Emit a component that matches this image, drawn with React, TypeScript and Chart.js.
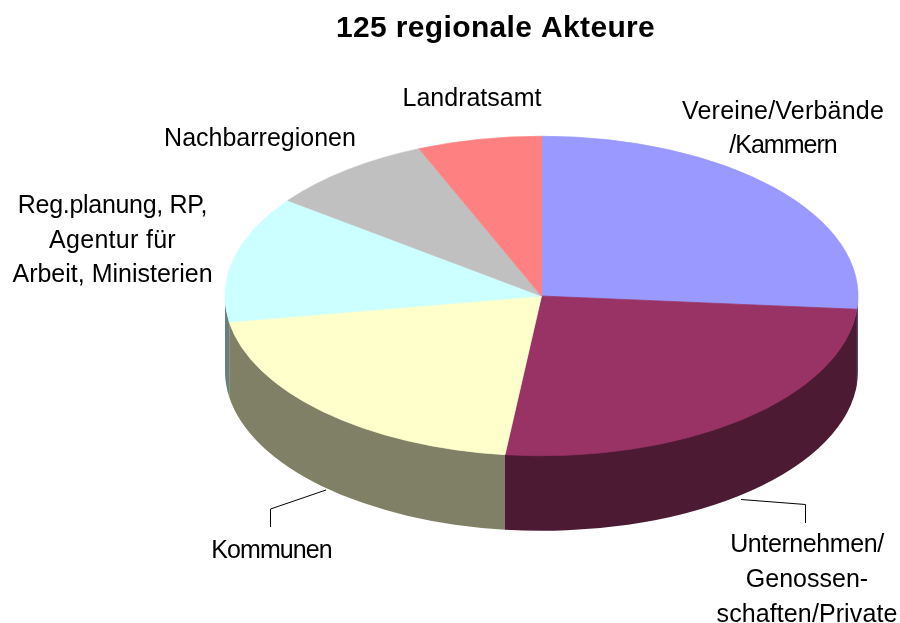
import React, { useEffect, useRef } from "react";
import { Chart, registerables } from "chart.js";

Chart.register(...registerables);

const TITLE = "125 regionale Akteure";
const CATEGORIES = [
  "Vereine/Verbände /Kammern",
  "Unternehmen/ Genossen-schaften/Private",
  "Kommunen",
  "Reg.planung, RP, Agentur für Arbeit, Ministerien",
  "Nachbarregionen",
  "Landratsamt",
];
const VALUES = [32.9, 31.9, 25.7, 16, 10.6, 7.9];
const TOP_COLORS = ["#9999FF", "#993366", "#FFFFCC", "#CCFFFF", "#C0C0C0", "#FF8080"];
const SIDE_COLORS = ["#4D4D80", "#4D1A33", "#808066", "#668080", "#606060", "#804040"];
const LABEL_LINES = [
  ["Vereine/Verbände", "/Kammern"],
  ["Unternehmen/", "Genossen-", "schaften/Private"],
  ["Kommunen"],
  ["Reg.planung, RP,", "Agentur für", "Arbeit, Ministerien"],
  ["Nachbarregionen"],
  ["Landratsamt"],
];

// layout of the annotations (not data)
const LABEL_ANCHORS = [
  { x: 783, y: 119, lh: 33.5, ls: [0.2, -1.0] },
  { x: 807, y: 552, lh: 35, ls: [-0.4, 0, 0.1] },
  { x: 271.5, y: 558, lh: 35, ls: [-0.9] },
  { x: 112.5, y: 213, lh: 34.7, ls: [-0.3, 0.3, 0] },
  { x: 260, y: 146, lh: 35, ls: [0] },
  { x: 472, y: 106, lh: 35, ls: [0] },
];
const LEADERS = [
  [[741, 499.5], [805.5, 504.5], [805.5, 523]],
  [[326, 490], [270.5, 509], [270.5, 527]],
];
const SCALE_X = 1.585;
const SCALE_Y = 0.8;
const DEPTH = 75;

const pie3d = {
  id: "pie3d",
  beforeDraw(chart: any) {
    (chart.ctx as any).letterSpacing = "0.35px";
  },
  beforeDatasetsDraw(chart: any) {
    const ctx: CanvasRenderingContext2D = chart.ctx;
    (ctx as any).letterSpacing = "0px";
    const arcs = chart.getDatasetMeta(0).data as any[];
    arcs.forEach((a, i) => {
      // only the front half of the rim (canvas angles 0..PI) is visible
      const from = Math.max(a.startAngle, 0);
      const to = Math.min(a.endAngle, Math.PI);
      if (from >= to) return;
      const rx = a.outerRadius * SCALE_X;
      const ry = a.outerRadius * SCALE_Y;
      ctx.beginPath();
      ctx.ellipse(a.x, a.y - 1, rx, ry, 0, from, to);
      ctx.ellipse(a.x, a.y + DEPTH, rx, ry, 0, to, from, true);
      ctx.closePath();
      ctx.fillStyle = SIDE_COLORS[i];
      ctx.fill();
    });
    const a0 = arcs[0];
    ctx.save();
    ctx.translate(a0.x, a0.y);
    ctx.scale(SCALE_X, SCALE_Y);
    ctx.translate(-a0.x, -a0.y);
  },
  afterDatasetsDraw(chart: any) {
    const ctx: CanvasRenderingContext2D = chart.ctx;
    ctx.restore();
    ctx.save();
    ctx.fillStyle = "#000";
    ctx.font = '25px "Liberation Sans", Arial, sans-serif';
    ctx.textAlign = "center";
    ctx.textBaseline = "alphabetic";
    LABEL_LINES.forEach((lines, i) => {
      const p = LABEL_ANCHORS[i];
      lines.forEach((t, j) => {
        (ctx as any).letterSpacing = `${p.ls[j]}px`;
        ctx.fillText(t, p.x, p.y + j * p.lh);
      });
    });
    (ctx as any).letterSpacing = "0px";
    ctx.strokeStyle = "#000";
    ctx.lineWidth = 1;
    LEADERS.forEach((pts) => {
      ctx.beginPath();
      pts.forEach(([x, y], j) => (j ? ctx.lineTo(x, y) : ctx.moveTo(x, y)));
      ctx.stroke();
    });
    ctx.restore();
  },
};

export default function App() {
  const ref = useRef<HTMLCanvasElement>(null);
  useEffect(() => {
    document.body.style.margin = "0";
    const chart = new Chart(ref.current!, {
      type: "pie",
      data: {
        labels: CATEGORIES,
        datasets: [
          {
            data: VALUES,
            backgroundColor: TOP_COLORS,
            borderColor: TOP_COLORS,
            borderWidth: 0.6,
          },
        ],
      },
      options: {
        responsive: false,
        animation: false,
        layout: { padding: { left: 336, right: 153, top: 0, bottom: 127 } },
        plugins: {
          legend: { display: false },
          tooltip: { enabled: false },
          title: {
            display: true,
            text: TITLE,
            align: "start",
            color: "#000",
            font: { family: '"Liberation Sans", Arial, sans-serif', size: 30, weight: "bold", lineHeight: 1.2 },
            padding: { top: 10.5, bottom: 49.5 },
          },
        },
      },
      plugins: [pie3d],
    } as any);
    return () => chart.destroy();
  }, []);
  return <canvas ref={ref} width={900} height={623} style={{ display: "block" }} />;
}
